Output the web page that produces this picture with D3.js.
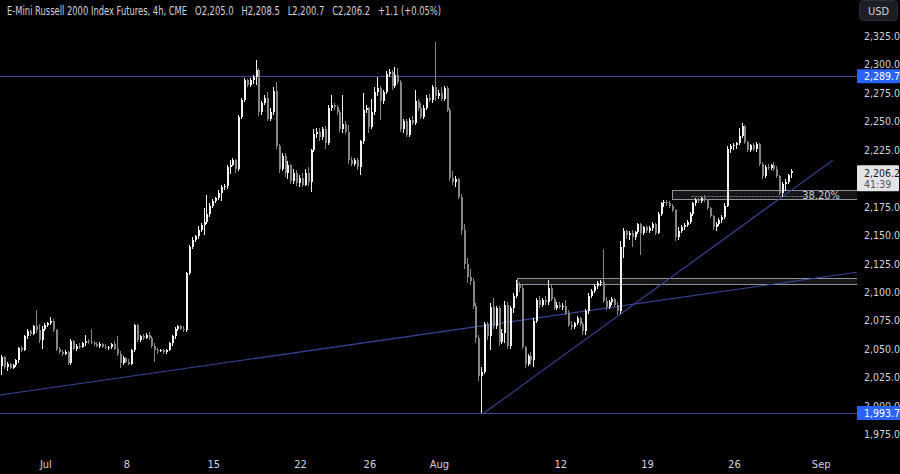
<!DOCTYPE html>
<html><head><meta charset="utf-8">
<script src="https://cdn.jsdelivr.net/npm/d3@7"></script>
<style>
html,body{margin:0;padding:0;background:#000;}
svg{display:block;}
text{font-family:"Liberation Sans Narrow","DejaVu Sans Condensed","Liberation Sans",sans-serif;}
</style></head>
<body>
<svg id="chart" width="900" height="474"></svg>
<script>
// ---- data (4h bars, index 0 = first bar on the left) ----
const opens = [
2035,2043,2034,2037,2033,2036,2040,2051,2049,2061,
2066,2063,2070,2067,2058,2068,2071,2073,2075,2067,
2050,2047,2046,2047,2038,2057,2050,2053,2052,2055,
2057,2056,2055,2054,2053,2054,2052,2051,2052,2054,
2050,2046,2038,2042,2039,2037,2049,2071,2058,2061,
2060,2062,2060,2053,2049,2048,2049,2047,2049,2055,
2061,2068,2070,2068,2067,2117,2140,2146,2149,2155,
2159,2162,2169,2176,2180,2183,2187,2192,2193,2210,
2212,2216,2208,2254,2269,2286,2282,2286,2289,2295,
2258,2266,2271,2252,2258,2277,2228,2208,2220,2205,
2212,2198,2205,2196,2200,2194,2205,2197,2225,2239,
2241,2236,2243,2231,2262,2264,2263,2258,2243,2248,
2241,2216,2213,2216,2210,2233,2260,2262,2245,2258,
2276,2279,2268,2276,2292,2293,2281,2291,2285,2243,
2250,2238,2251,2249,2268,2262,2254,2262,2271,2269,
2280,2272,2275,2270,2279,2260,2200,2197,2199,2184,
2155,2125,2113,2110,2088,2060,2026,2030,2072,2061,
2087,2070,2086,2056,2064,2089,2053,2086,2097,2107,
2104,2052,2037,2044,2040,2075,2093,2089,2093,2091,
2104,2094,2086,2089,2087,2088,2082,2071,2069,2073,
2077,2072,2066,2083,2097,2101,2105,2108,2109,2092,
2087,2091,2094,2089,2083,2140,2154,2150,2152,2148,
2153,2160,2152,2157,2154,2156,2160,2152,2169,2178,
2179,2178,2176,2172,2148,2154,2157,2159,2162,2169,
2178,2181,2180,2183,2181,2174,2167,2157,2160,2163,
2166,2176,2226,2228,2229,2231,2237,2246,2232,2225,
2229,2226,2230,2213,2202,2210,2209,2212,2208,2202,
2187,2195,2197,2205.0];
const highs = [
2045,2044,2039,2038,2037,2041,2052,2053,2062,2068,
2067,2071,2084,2072,2070,2073,2074,2078,2076,2068,
2052,2049,2049,2048,2059,2058,2054,2055,2056,2062,
2059,2068,2057,2056,2056,2055,2054,2053,2055,2057,
2061,2048,2044,2043,2041,2050,2072,2072,2062,2063,
2064,2065,2061,2055,2051,2050,2050,2050,2056,2062,
2069,2071,2071,2070,2118,2141,2148,2150,2158,2161,
2174,2185,2178,2182,2184,2190,2194,2195,2212,2216,
2218,2217,2256,2271,2288,2287,2288,2291,2304,2297,
2268,2273,2276,2262,2280,2285,2230,2222,2222,2215,
2213,2208,2207,2203,2205,2208,2210,2226,2243,2244,
2244,2245,2246,2264,2273,2266,2264,2260,2273,2250,
2247,2219,2218,2218,2234,2275,2264,2263,2270,2280,
2289,2281,2278,2294,2296,2295,2298,2297,2286,2252,
2252,2253,2255,2278,2270,2266,2264,2273,2274,2282,
2320,2278,2280,2281,2281,2262,2206,2202,2200,2186,
2160,2130,2120,2112,2090,2062,2034,2074,2074,2090,
2095,2088,2088,2068,2092,2091,2088,2099,2111,2109,
2106,2053,2046,2047,2077,2095,2097,2095,2097,2111,
2106,2096,2091,2091,2090,2093,2084,2075,2074,2079,
2078,2074,2085,2099,2103,2107,2110,2111,2138,2096,
2093,2096,2095,2091,2145,2156,2155,2154,2155,2154,
2161,2161,2158,2159,2158,2162,2161,2170,2179,2181,
2181,2180,2177,2173,2157,2159,2161,2163,2170,2179,
2183,2183,2184,2185,2182,2175,2168,2162,2165,2168,
2178,2228,2230,2231,2232,2244,2249,2247,2233,2230,
2231,2232,2231,2214,2212,2213,2213,2214,2211,2203,
2197,2199,2204,2208.5];
const lows = [
2027,2032,2031,2032,2032,2034,2038,2047,2048,2059,
2061,2062,2064,2055,2050,2066,2069,2071,2065,2048,
2046,2044,2045,2036,2036,2049,2048,2050,2051,2053,
2054,2054,2053,2052,2051,2051,2050,2049,2050,2049,
2044,2033,2036,2038,2036,2036,2047,2056,2056,2058,
2059,2058,2051,2039,2046,2047,2046,2046,2048,2053,
2059,2066,2067,2065,2065,2115,2138,2144,2147,2153,
2150,2160,2166,2174,2178,2181,2180,2190,2191,2204,
2211,2205,2206,2252,2267,2280,2280,2283,2282,2255,
2256,2264,2250,2250,2256,2226,2205,2206,2201,2199,
2195,2195,2193,2192,2192,2193,2193,2188,2223,2235,
2233,2234,2226,2229,2259,2260,2256,2241,2240,2239,
2213,2211,2211,2207,2203,2230,2257,2240,2243,2256,
2272,2251,2265,2274,2289,2278,2279,2283,2241,2240,
2236,2236,2247,2247,2259,2252,2252,2260,2267,2266,
2268,2270,2268,2268,2258,2198,2194,2192,2182,2150,
2120,2108,2106,2085,2055,2022,1994,2028,2058,2049,
2068,2068,2053,2054,2055,2050,2050,2082,2095,2100,
2050,2033,2035,2036,2034,2073,2086,2087,2089,2089,
2092,2084,2084,2085,2084,2080,2069,2067,2068,2071,
2070,2062,2062,2081,2095,2099,2103,2105,2090,2084,
2085,2089,2087,2080,2081,2130,2147,2146,2140,2146,
2151,2133,2150,2152,2152,2154,2150,2151,2167,2175,
2176,2174,2170,2145,2146,2152,2155,2157,2160,2167,
2176,2178,2178,2179,2172,2165,2155,2154,2158,2161,
2164,2175,2222,2225,2226,2229,2235,2230,2223,2223,
2224,2223,2211,2199,2200,2207,2207,2206,2200,2185,
2184,2189,2195,2200.7];
const closes = [
2043,2034,2037,2033,2036,2040,2051,2049,2061,2066,
2063,2070,2067,2058,2068,2071,2073,2075,2067,2050,
2047,2046,2047,2038,2057,2050,2053,2052,2055,2057,
2056,2055,2054,2053,2054,2052,2051,2052,2054,2050,
2046,2038,2042,2039,2037,2049,2071,2058,2061,2060,
2062,2060,2053,2049,2048,2049,2047,2049,2055,2061,
2068,2070,2068,2067,2117,2140,2146,2149,2155,2159,
2162,2169,2176,2180,2183,2187,2192,2193,2210,2212,
2216,2208,2254,2269,2286,2282,2286,2289,2295,2258,
2266,2271,2252,2258,2277,2228,2208,2220,2205,2212,
2198,2205,2196,2200,2194,2205,2197,2225,2239,2241,
2236,2243,2231,2262,2264,2263,2258,2243,2248,2241,
2216,2213,2216,2210,2233,2260,2262,2245,2258,2276,
2279,2268,2276,2292,2293,2281,2291,2285,2243,2250,
2238,2251,2249,2268,2262,2254,2262,2271,2269,2280,
2272,2275,2270,2279,2260,2200,2197,2199,2184,2155,
2125,2113,2110,2088,2060,2026,2030,2072,2061,2087,
2070,2086,2056,2064,2089,2053,2086,2097,2107,2104,
2052,2037,2044,2040,2075,2093,2089,2093,2091,2104,
2094,2086,2089,2087,2088,2082,2071,2069,2073,2077,
2072,2066,2083,2097,2101,2105,2108,2109,2092,2087,
2091,2094,2089,2083,2140,2154,2150,2152,2148,2153,
2160,2152,2157,2154,2156,2160,2152,2169,2178,2179,
2178,2176,2172,2148,2154,2157,2159,2162,2169,2178,
2181,2180,2183,2181,2174,2167,2157,2160,2163,2166,
2176,2226,2228,2229,2231,2237,2246,2232,2225,2229,
2226,2230,2213,2202,2210,2209,2212,2208,2202,2187,
2195,2197,2203,2206.2];

const timeTickIdx   = [15, 43, 73, 103, 127, 151, 193, 223, 253, 283];
const timeTickLabel = ["Jul","8","15","22","26","Aug","12","19","26","Sep"];
// 2,200.0 sits under the last-price label in the reference, so it is not drawn
const priceTicks = [1975,2000,2025,2050,2075,2100,2125,2150,2175,2225,2250,2275,2300,2325];

const levelLines = [2289.7, 1993.7];
const trendLow   = [[-0.7, 2009.6], [295.5, 2117.5]];
const trendAug   = [[166.6, 1993.7], [287.2, 2216.0]];
const zoneBox    = {from: 178, top: 2112.6, bottom: 2107.4};
const fibBox     = {from: 231.5, top: 2189.8, bottom: 2182.0, level: 2184.6, dotsTo: 278.5, label: "38.20%"};
const header = "E-Mini Russell 2000 Index Futures, 4h, CME   O2,205.0   H2,208.5   L2,200.7   C2,206.2   +1.1 (+0.05%)";
const lastPrice = 2206.2, countdown = "41:39";

// ---- scales ----
const W = 900, H = 474, plotRight = 857;
const x = d3.scaleLinear().domain([0, 283]).range([2, 820.7]);
const y = d3.scaleLinear().domain([1975, 2325]).range([434.35, 36.05]);

const svg = d3.select("#chart");
svg.append("rect").attr("width", W).attr("height", H).attr("fill", "#000");
svg.append("defs").append("clipPath").attr("id", "plot")
  .append("rect").attr("x", 0).attr("y", 0).attr("width", plotRight).attr("height", 450);

const plot = svg.append("g").attr("clip-path", "url(#plot)");
const lineBlue = "#3a4699";

// level lines
plot.selectAll("line.level").data(levelLines).join("line")
  .attr("x1", 0).attr("x2", plotRight)
  .attr("y1", d => Math.round(y(d)) + 0.5).attr("y2", d => Math.round(y(d)) + 0.5)
  .attr("stroke", lineBlue).attr("stroke-width", 1);

// zone boxes
function box(b) {
  const y0 = Math.round(y(b.top)) + 0.5, y1 = Math.round(y(b.bottom)) + 0.5;
  plot.append("rect").attr("x", Math.round(x(b.from)) + 0.5).attr("y", y0)
    .attr("width", plotRight + 5 - x(b.from)).attr("height", y1 - y0)
    .attr("fill", "rgba(120,123,134,0.18)").attr("stroke", "#8f929b").attr("stroke-width", 1);
}
box(zoneBox);
box(fibBox);
plot.append("line")
  .attr("x1", x(fibBox.from) + 20).attr("x2", x(fibBox.dotsTo))
  .attr("y1", Math.round(y(fibBox.level)) + 0.5).attr("y2", Math.round(y(fibBox.level)) + 0.5)
  .attr("stroke", "#9a9da6").attr("stroke-width", 1).attr("stroke-dasharray", "1,1");

// trend lines
const lineGen = d3.line().x(d => x(d[0])).y(d => y(d[1]));
[trendLow, trendAug].forEach(t => {
  plot.append("path").attr("d", lineGen(t)).attr("fill", "none")
    .attr("stroke", lineBlue).attr("stroke-width", 1.1);
});

// candles
const upCol = "#f2f2f2", downCol = "#858585";
const idx = d3.range(closes.length);
const cg = plot.append("g").attr("shape-rendering", "crispEdges");
cg.selectAll("line.wick").data(idx).join("line")
  .attr("x1", i => Math.round(x(i)) - 0.5).attr("x2", i => Math.round(x(i)) - 0.5)
  .attr("y1", i => y(highs[i])).attr("y2", i => y(lows[i]))
  .attr("stroke", i => closes[i] >= opens[i] ? upCol : downCol).attr("stroke-width", 1);
cg.selectAll("rect.body").data(idx).join("rect")
  .attr("x", i => Math.round(x(i)) - 1).attr("width", 2)
  .attr("y", i => y(Math.max(opens[i], closes[i])))
  .attr("height", i => Math.max(1, Math.abs(y(opens[i]) - y(closes[i]))))
  .attr("fill", i => closes[i] >= opens[i] ? upCol : downCol);

// fib label
svg.append("text").attr("x", 840).attr("y", y(fibBox.level) + 3.5)
  .attr("text-anchor", "end").attr("fill", "#c9cbd1").attr("font-size", 11).text(fibBox.label);

// ---- axes ----
const xAxis = d3.axisBottom(x).tickValues(timeTickIdx)
  .tickFormat((d, i) => timeTickLabel[i]).tickSize(0).tickPadding(3);
const gx = svg.append("g").attr("transform", "translate(0,457)").call(xAxis);
gx.select(".domain").remove();
gx.selectAll("text").attr("fill", "#d1d4dc").attr("font-size", 11);

const yAxis = d3.axisRight(y).tickValues(priceTicks)
  .tickFormat(d3.format(",.1f")).tickSize(0).tickPadding(3);
const gy = svg.append("g").attr("transform", "translate(861,0)").call(yAxis);
gy.select(".domain").remove();
gy.selectAll("text").attr("fill", "#d1d4dc").attr("font-size", 10.5);

// level price labels
levelLines.forEach(v => {
  const cy = y(v);
  svg.append("rect").attr("x", 857).attr("y", cy - 7).attr("width", 43).attr("height", 14)
    .attr("rx", 1).attr("fill", "#2962ff");
  svg.append("text").attr("x", 864).attr("y", cy + 3.8).attr("fill", "#ffffff")
    .attr("font-size", 10.5).text(d3.format(",.1f")(v));
});

// last price label
const ly = y(lastPrice);
svg.append("rect").attr("x", 857).attr("y", ly - 6).attr("width", 42).attr("height", 26)
  .attr("rx", 1).attr("fill", "#e3e4e8");
svg.append("text").attr("x", 864).attr("y", ly + 6).attr("fill", "#131722")
  .attr("font-size", 10.5).text(d3.format(",.1f")(lastPrice));
svg.append("text").attr("x", 864).attr("y", ly + 17).attr("fill", "#50535e")
  .attr("font-size", 10.5).text(countdown);

// USD button
svg.append("rect").attr("x", 859.5).attr("y", 0.5).attr("width", 38).attr("height", 20)
  .attr("rx", 4).attr("fill", "#1b1e25").attr("stroke", "#2a2e39");
svg.append("text").attr("x", 878.5).attr("y", 14.5).attr("text-anchor", "middle")
  .attr("fill", "#d1d4dc").attr("font-size", 11).text("USD");

// header
svg.append("text").attr("x", 7).attr("y", 15).attr("fill", "#d1d4dc")
  .attr("font-size", 12).style("white-space", "pre")
  .attr("textLength", 434).attr("lengthAdjust", "spacingAndGlyphs").text(header);
</script>
</body></html>
